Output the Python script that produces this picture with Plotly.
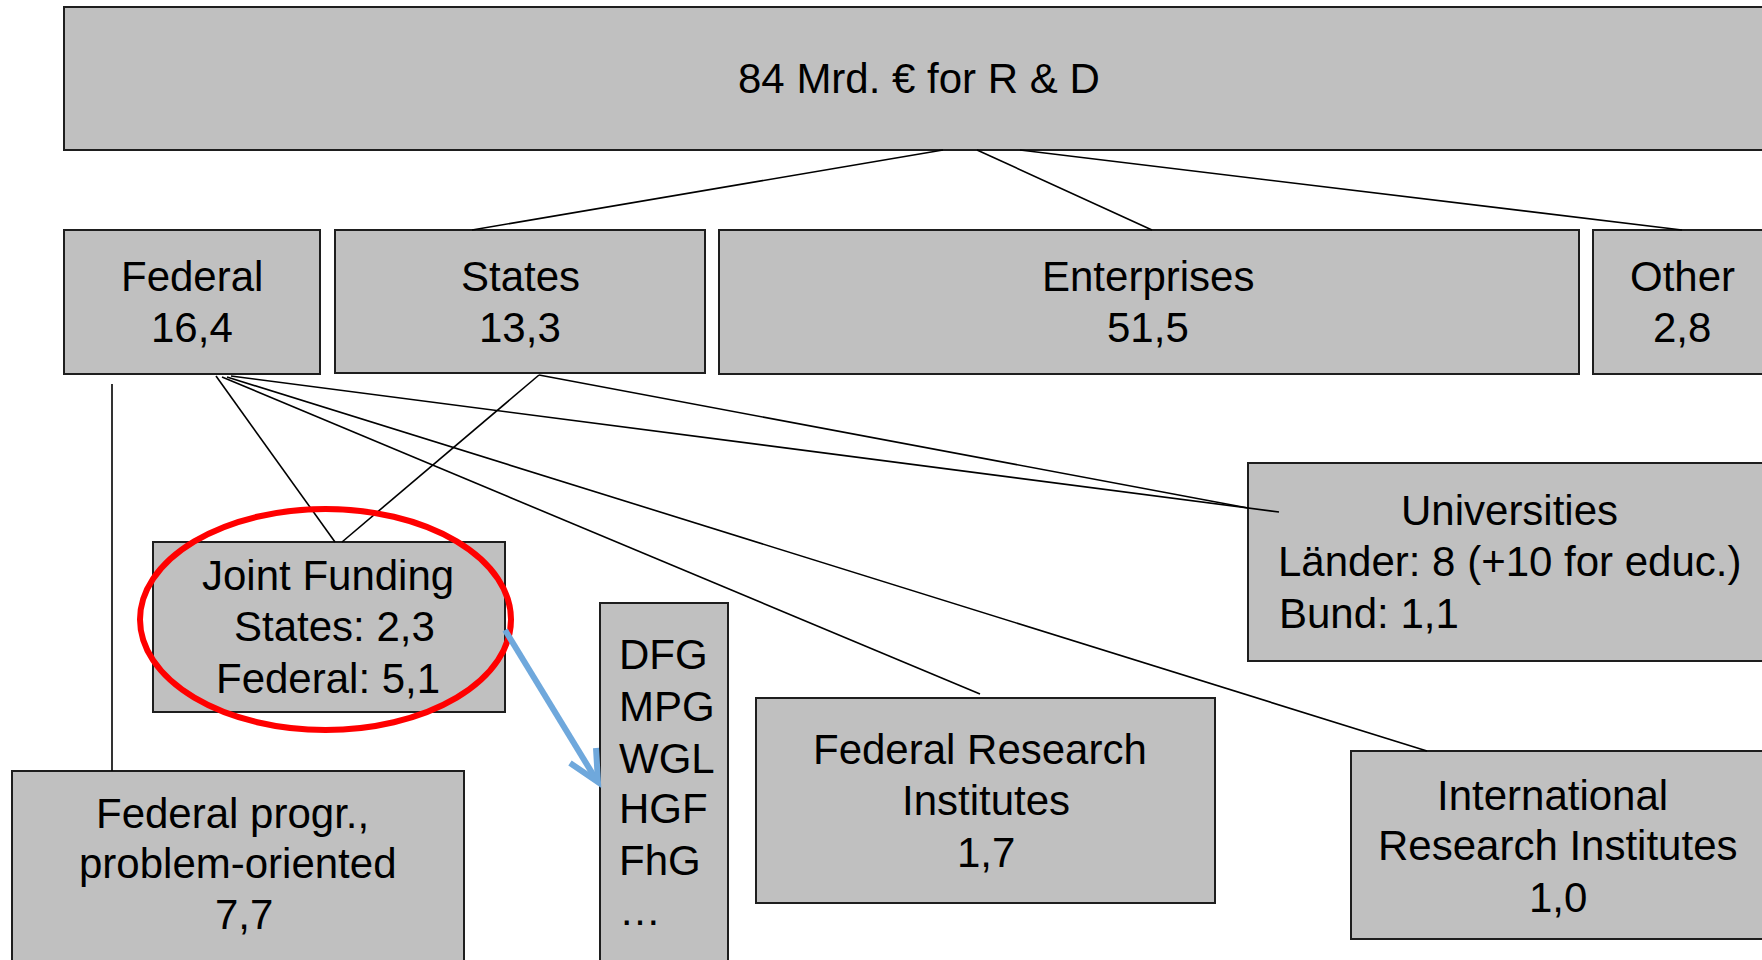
import plotly.graph_objects as go

# ---------------- data (texts / values) ----------------
total_text = "84 Mrd. € for R & D"
funders = ["Federal", "States", "Enterprises", "Other"]
funder_values = ["16,4", "13,3", "51,5", "2,8"]
joint_lines = ["Joint Funding", "States: 2,3", "Federal: 5,1"]
univ_lines = ["Universities", "Länder: 8 (+10 for educ.)", "Bund: 1,1"]
orgs = ["DFG", "MPG", "WGL", "HGF", "FhG", "…"]
fri_lines = ["Federal Research", "Institutes", "1,7"]
iri_lines = ["International", "Research Institutes", "1,0"]
fpo_lines = ["Federal progr.,", "problem-oriented", "7,7"]

# ---------------- layout geometry (pixels) ----------------
W, H = 1762, 960
BOX_FILL = "#c0c0c0"
BOX_LINE = "#1e1e1e"
FONT = "Liberation Sans, Arial, sans-serif"
FS = 42
DY = -1.5  # global text vertical nudge

boxes = {
    "total": (64, 7, 1775, 150),
    "Federal": (64, 230, 320, 374),
    "States": (335, 230, 705, 373),
    "Enterprises": (719, 230, 1579, 374),
    "Other": (1593, 230, 1775, 374),
    "univ": (1248, 463, 1775, 661),
    "joint": (153, 542, 505, 712),
    "orgs": (600, 603, 728, 975),
    "fri": (756, 698, 1215, 903),
    "iri": (1351, 751, 1775, 939),
    "fpo": (12, 771, 464, 975),
}

connectors = [
    ((943, 150), (472, 230)),
    ((977, 150), (1152, 230)),
    ((1020, 150), (1682, 230)),
    ((216, 376), (335, 542)),
    ((222, 377), (980, 694)),
    ((227, 377), (1427, 751)),
    ((231, 376), (1279, 512)),
    ((539, 375), (342, 542)),
    ((539, 375), (1248, 508)),
    ((112, 384), (112, 771)),
]

fig = go.Figure()
shapes = []
for key, (x0, y0, x1, y1) in boxes.items():
    shapes.append(dict(type="rect", x0=x0, y0=y0, x1=x1, y1=y1, xref="x", yref="y",
                       fillcolor=BOX_FILL, line=dict(color=BOX_LINE, width=2), layer="below"))
for (a, b) in connectors:
    shapes.append(dict(type="line", x0=a[0], y0=a[1], x1=b[0], y1=b[1], xref="x", yref="y",
                       line=dict(color="#000000", width=1.6)))
# red ellipse
shapes.append(dict(type="circle", x0=140, y0=509, x1=511, y1=730, xref="x", yref="y",
                   line=dict(color="#ff0000", width=6)))
# blue arrow
shapes.append(dict(type="path", path="M 505 630 L 597 781", xref="x", yref="y",
                   line=dict(color="#6fa8dc", width=6)))
shapes.append(dict(type="path", path="M 570 763 L 598 782 L 596 748", xref="x", yref="y",
                   line=dict(color="#6fa8dc", width=6)))

annotations = []

def txt(x, y, s, xanchor="center"):
    annotations.append(dict(x=x, y=y + DY, xref="x", yref="y", text=s, showarrow=False,
                            xanchor=xanchor, yanchor="middle",
                            font=dict(family=FONT, size=FS, color="#000000")))

txt(919, 80, total_text)
fcent = {"Federal": 192, "States": 520, "Enterprises": 1148, "Other": 1682}
for name, val in zip(funders, funder_values):
    txt(fcent[name], 278, name)
    txt(fcent[name], 329, val)

for s, y, x in zip(joint_lines, [577, 628, 680], [328, 334, 328]):
    txt(x, y, s)
txt(1509, 512, univ_lines[0])
txt(1509, 563, univ_lines[1])
txt(1277, 615, univ_lines[2], xanchor="left")
for s, y in zip(orgs, [656, 708, 760, 810, 862, 912]):
    txt(617, y, s, xanchor="left")
for s, y, x in zip(fri_lines, [751, 802, 854], [980, 986, 986]):
    txt(x, y, s)
for s, y, x in zip(iri_lines, [797, 847, 899], [1552, 1558, 1558]):
    txt(x, y, s)
for s, y, x in zip(fpo_lines, [815, 865, 916], [232, 238, 244]):
    txt(x, y, s)

fig.update_layout(
    width=W, height=H,
    margin=dict(l=0, r=0, t=0, b=0),
    paper_bgcolor="white", plot_bgcolor="white",
    xaxis=dict(range=[0, W], visible=False, fixedrange=True),
    yaxis=dict(range=[H, 0], visible=False, fixedrange=True),
    shapes=shapes, annotations=annotations, showlegend=False,
)

fig.write_html("out.html", config={"displayModeBar": False},
               post_script="document.body.style.margin='0';document.body.style.overflow='hidden';")
